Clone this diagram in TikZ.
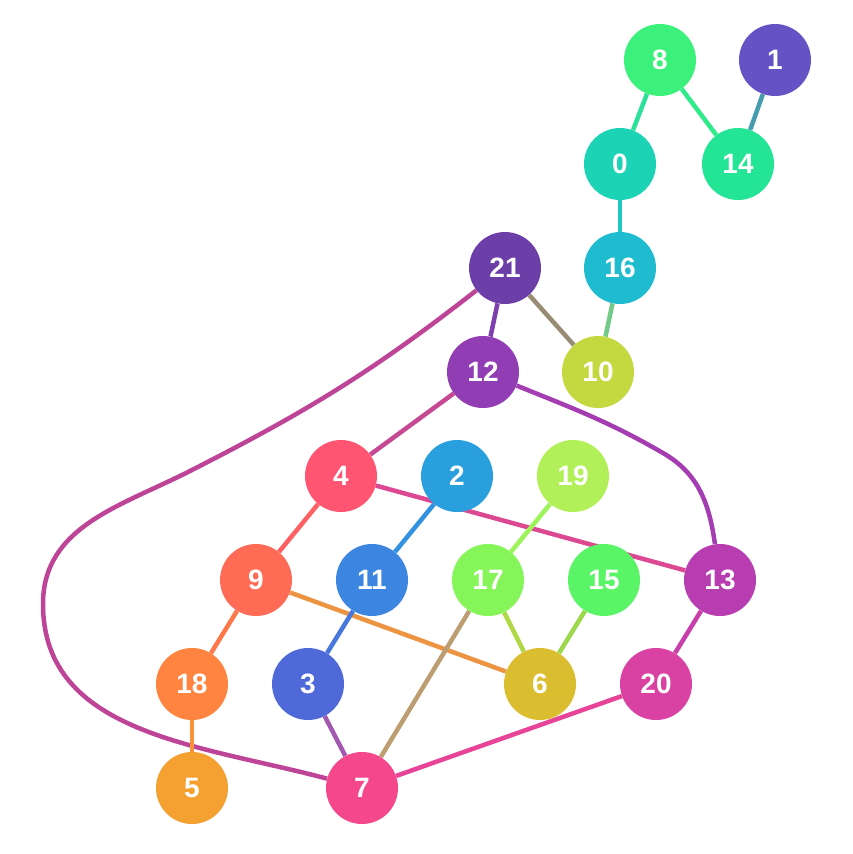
\documentclass[tikz,border=0pt]{standalone}
\usepackage{fontspec}
\setmainfont{Liberation Sans}
\usepackage{xcolor}
\usepackage{tikz}
\usetikzlibrary{backgrounds}

\definecolor{c0}{HTML}{1CD3B5}
\definecolor{c1}{HTML}{6553C6}
\definecolor{c2}{HTML}{2A9FDD}
\definecolor{c3}{HTML}{5069D8}
\definecolor{c4}{HTML}{FF5573}
\definecolor{c5}{HTML}{F4A132}
\definecolor{c6}{HTML}{DBBD30}
\definecolor{c7}{HTML}{F5478B}
\definecolor{c8}{HTML}{3CF07C}
\definecolor{c9}{HTML}{FF6B55}
\definecolor{c10}{HTML}{C4D93F}
\definecolor{c11}{HTML}{3C85E0}
\definecolor{c12}{HTML}{913DB3}
\definecolor{c13}{HTML}{B83DB0}
\definecolor{c14}{HTML}{24E596}
\definecolor{c15}{HTML}{5AF567}
\definecolor{c16}{HTML}{1FBCCF}
\definecolor{c17}{HTML}{85F55A}
\definecolor{c18}{HTML}{FF843F}
\definecolor{c19}{HTML}{B2F05A}
\definecolor{c20}{HTML}{D941A3}
\definecolor{c21}{HTML}{6C3FA8}

\begin{document}
\begin{tikzpicture}[
  x=1pt, y=1pt,
  vertex/.style={circle, inner sep=0pt, minimum size=72pt, text=white,
                 font=\bfseries\fontsize{28}{28}\selectfont},
  edge/.style={line width=4.5pt}
]
\useasboundingbox (0,0) rectangle (853,-854);

\node[vertex, fill=c8] (n8) at (660,-60) {8};
\node[vertex, fill=c1] (n1) at (775,-60) {1};
\node[vertex, fill=c0] (n0) at (620,-164) {0};
\node[vertex, fill=c14] (n14) at (738,-164) {14};
\node[vertex, fill=c21] (n21) at (505,-268) {21};
\node[vertex, fill=c16] (n16) at (620,-268) {16};
\node[vertex, fill=c12] (n12) at (483,-372) {12};
\node[vertex, fill=c10] (n10) at (598,-372) {10};
\node[vertex, fill=c4] (n4) at (341,-476) {4};
\node[vertex, fill=c2] (n2) at (457,-476) {2};
\node[vertex, fill=c19] (n19) at (573,-476) {19};
\node[vertex, fill=c9] (n9) at (256,-580) {9};
\node[vertex, fill=c11] (n11) at (372,-580) {11};
\node[vertex, fill=c17] (n17) at (488,-580) {17};
\node[vertex, fill=c15] (n15) at (604,-580) {15};
\node[vertex, fill=c13] (n13) at (720,-580) {13};
\node[vertex, fill=c18] (n18) at (192,-684) {18};
\node[vertex, fill=c3] (n3) at (308,-684) {3};
\node[vertex, fill=c6] (n6) at (540,-684) {6};
\node[vertex, fill=c20] (n20) at (656,-684) {20};
\node[vertex, fill=c5] (n5) at (192,-788) {5};
\node[vertex, fill=c7] (n7) at (362,-788) {7};

\begin{scope}[on background layer]
\draw[edge, c8!50!c0] (n8) -- (n0);
\draw[edge, c8!50!c14] (n8) -- (n14);
\draw[edge, c1!50!c14] (n1) -- (n14);
\draw[edge, c0!50!c16] (n0) -- (n16);
\draw[edge, c16!50!c10] (n16) -- (n10);
\draw[edge, c21!50!c10] (n21) -- (n10);
\draw[edge, c21!50!c12] (n21) -- (n12);
\draw[edge, c21!40!c7] (n21) to[out=218,in=27] (190,-471)
  to[out=207,in=90] (43,-604) to[out=270,in=165] (n7);
\draw[edge, c12!50!c4] (n12) -- (n4);
\draw[edge, c12!50!c13] (n12) to[out=-22,in=150] (663,-453)
  to[out=-30,in=98] (n13);
\draw[edge, c4!50!c9] (n4) -- (n9);
\draw[edge, c4!50!c13] (n4) -- (n13);
\draw[edge, c2!50!c11] (n2) -- (n11);
\draw[edge, c19!50!c17] (n19) -- (n17);
\draw[edge, c9!50!c18] (n9) -- (n18);
\draw[edge, c9!50!c6] (n9) -- (n6);
\draw[edge, c11!50!c3] (n11) -- (n3);
\draw[edge, c17!50!c7] (n17) -- (n7);
\draw[edge, c17!50!c6] (n17) -- (n6);
\draw[edge, c15!50!c6] (n15) -- (n6);
\draw[edge, c13!50!c20] (n13) -- (n20);
\draw[edge, c18!50!c5] (n18) -- (n5);
\draw[edge, c3!50!c7] (n3) -- (n7);
\draw[edge, c20!50!c7] (n20) -- (n7);
\end{scope}
\end{tikzpicture}
\end{document}
